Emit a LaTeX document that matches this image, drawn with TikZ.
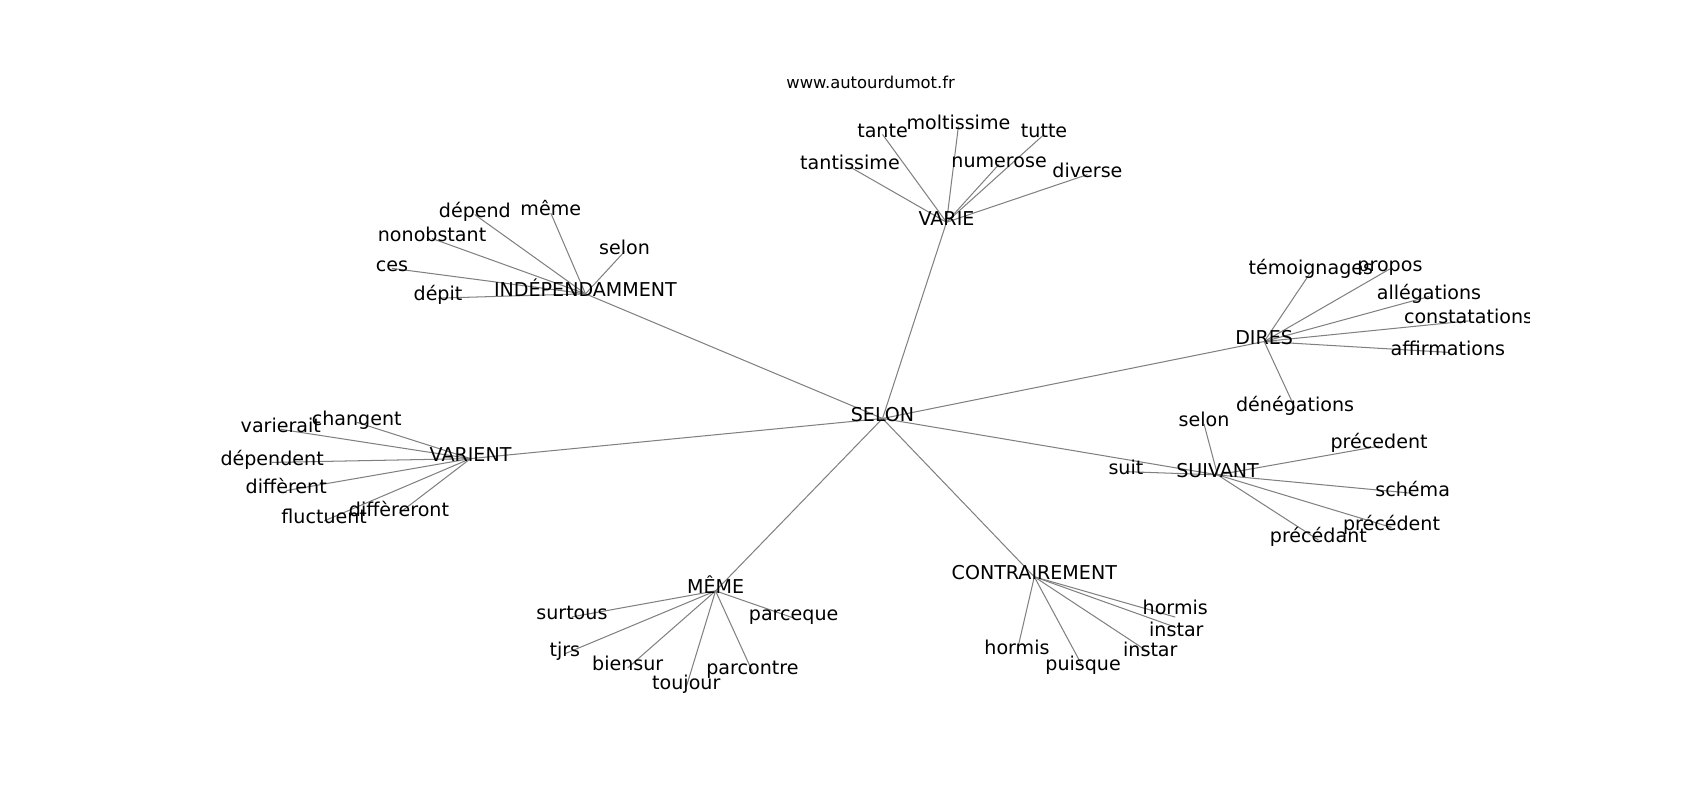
\documentclass[tikz,border=0pt]{standalone}
\usepackage{fontspec}
\setmainfont{DejaVu Sans}
\usetikzlibrary{backgrounds}
\begin{document}
\begin{tikzpicture}[x=1pt,y=-1pt,
  lbl/.style={inner sep=0pt, yshift=-3pt, text height=0.76em, text depth=0.236em, font=\fontsize{17.6}{21}\selectfont},
  ttl/.style={inner sep=0pt, yshift=-3pt, text height=0.76em, text depth=0.236em, font=\fontsize{15.1}{18}\selectfont},
  edge/.style={draw=gray, line width=0.95pt}]
\useasboundingbox (0,0) rectangle (1568,738);
\node[ttl] (title) at (803,76) {www.autourdumot.fr};
\begin{scope}
\clip (196,88.6) rectangle (1411,656.8);
% hubs
\node[lbl] (selon) at (814,383) {SELON};
\node[lbl] (varie) at (873,202) {VARIE};
\node[lbl] (indep) at (540,268) {INDÉPENDAMMENT};
\node[lbl] (dires) at (1166,312) {DIRES};
\node[lbl] (varient) at (434,420) {VARIENT};
\node[lbl] (suivant) at (1123,435) {SUIVANT};
\node[lbl] (meme) at (660,542) {MÊME};
\node[lbl] (contr) at (954,529) {CONTRAIREMENT};
% VARIE leaves
\node[lbl] (tantissime) at (784,151) {tantissime};
\node[lbl] (tante) at (814,121) {tante};
\node[lbl] (moltissime) at (884,113.5) {moltissime};
\node[lbl] (tutte) at (963,121) {tutte};
\node[lbl] (numerose) at (921.5,148.5) {numerose};
\node[lbl] (diverse) at (1003,158) {diverse};
% INDEPENDAMMENT leaves
\node[lbl] (depend) at (438,195) {dépend};
\node[lbl] (memeb) at (508,193.5) {même};
\node[lbl] (nonob) at (398.5,217) {nonobstant};
\node[lbl] (selonb) at (576,229) {selon};
\node[lbl] (ces) at (361.5,244.5) {ces};
\node[lbl] (depit) at (404,272) {dépit};
% DIRES leaves
\node[lbl] (temo) at (1209,248) {témoignages};
\node[lbl] (propos) at (1282,245) {propos};
\node[lbl] (alleg) at (1318,270.5) {allégations};
\node[lbl] (const) at (1354.5,293) {constatations};
\node[lbl] (affirm) at (1335.5,322) {affirmations};
\node[lbl] (deneg) at (1194.5,373.5) {dénégations};
% SUIVANT leaves
\node[lbl] (selonc) at (1110.5,388) {selon};
\node[lbl] (preceda) at (1272,408.5) {précedent};
\node[lbl] (suit) at (1038.5,432) {suit};
\node[lbl] (schema) at (1303,452) {schéma};
\node[lbl] (precedb) at (1283.5,483.5) {précédent};
\node[lbl] (precedant) at (1216,495) {précédant};
% VARIENT leaves
\node[lbl] (changent) at (329,386.5) {changent};
\node[lbl] (varierait) at (259,393) {varierait};
\node[lbl] (dependent) at (251,423.5) {dépendent};
\node[lbl] (different) at (264,449.5) {diffèrent};
\node[lbl] (fluctuent) at (299,477.5) {fluctuent};
\node[lbl] (differeront) at (368,470.5) {diffèreront};
% MEME leaves
\node[lbl] (surtous) at (527.5,566) {surtous};
\node[lbl] (parceque) at (732,567) {parceque};
\node[lbl] (tjrs) at (521,600) {tjrs};
\node[lbl] (biensur) at (579,613) {biensur};
\node[lbl] (parcontre) at (694,616.5) {parcontre};
\node[lbl] (toujour) at (633,630.5) {toujour};
% CONTRAIREMENT leaves
\node[lbl] (hormisR) at (1084,561) {hormis};
\node[lbl] (instarR) at (1085,581) {instar};
\node[lbl] (hormisL) at (938,598) {hormis};
\node[lbl] (puisque) at (999,612.5) {puisque};
\node[lbl] (instarL) at (1061,599.5) {instar};
\end{scope}
\begin{pgfonlayer}{background}
\foreach \h in {varie,indep,dires,varient,suivant,meme,contr}
  \draw[edge] (selon.center) -- (\h.center);
\foreach \l in {tantissime,tante,moltissime,tutte,numerose,diverse}
  \draw[edge] (varie.center) -- (\l.center);
\foreach \l in {depend,memeb,nonob,selonb,ces,depit}
  \draw[edge] (indep.center) -- (\l.center);
\foreach \l in {temo,propos,alleg,const,affirm,deneg}
  \draw[edge] (dires.center) -- (\l.center);
\foreach \l in {selonc,preceda,suit,schema,precedb,precedant}
  \draw[edge] (suivant.center) -- (\l.center);
\foreach \l in {changent,varierait,dependent,different,fluctuent,differeront}
  \draw[edge] (varient.center) -- (\l.center);
\foreach \l in {surtous,parceque,tjrs,biensur,parcontre,toujour}
  \draw[edge] (meme.center) -- (\l.center);
\foreach \l in {hormisL,puisque,instarL}
  \draw[edge] (contr.center) -- (\l.center);
\draw[edge] (contr.center) -- (hormisR.south);
\draw[edge] (contr.center) -- (instarR.north);
\end{pgfonlayer}
\end{tikzpicture}
\end{document}
